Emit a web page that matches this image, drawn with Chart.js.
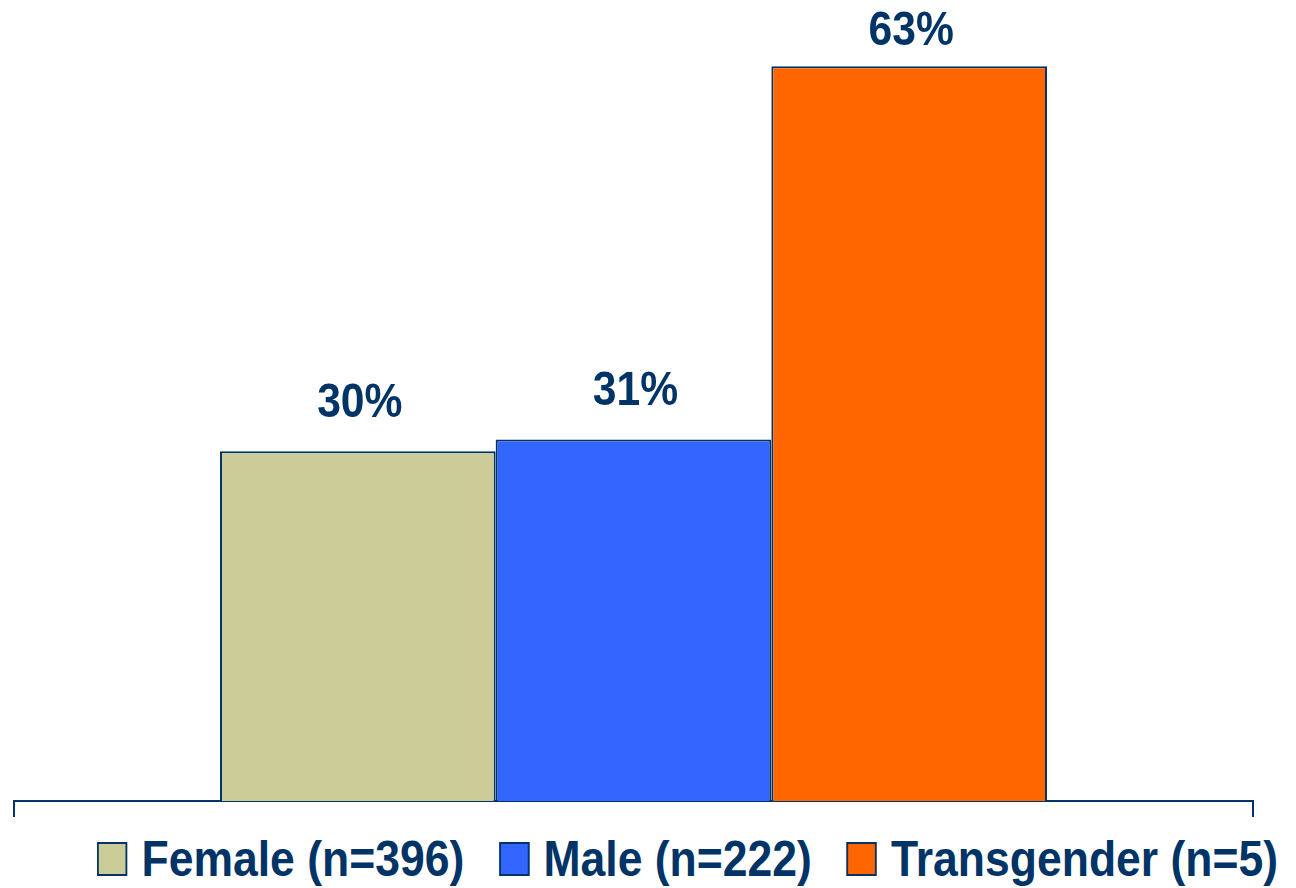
<!DOCTYPE html>
<html>
<head>
<meta charset="utf-8">
<script src="https://cdn.jsdelivr.net/npm/chart.js@4/dist/chart.umd.min.js"></script>
<style>
  body { margin: 0; background: #fff; }
  #wrap { position: relative; width: 1296px; height: 888px; overflow: hidden; }
  #chart { position: absolute; left: 0; top: 0; }
  #legend { position: absolute; left: 97px; top: 830px; display: flex; align-items: center;
            font-family: 'Liberation Sans', Arial, sans-serif;
            font-weight: bold; font-size: 50px; color: #003366; white-space: nowrap;
            transform: scaleX(0.89); transform-origin: left center; }
  .item { display: flex; align-items: center; margin-right: 39px; }
  .box { width: 30px; height: 30px; border: 2px solid #003366; margin-right: 16px; }
</style>
</head>
<body>
<div id="wrap">
  <canvas id="chart" width="1296" height="820"></canvas>
  <div id="legend"></div>
</div>
<script>
// data
const groups = ['Female (n=396)', 'Male (n=222)', 'Transgender (n=5)'];
const percents = [30, 31, 63];
const colors = ['#CCCC99', '#3366FF', '#FF6600'];

const NAVY = '#003366';
const LABEL_FONT = "bold 49px 'Liberation Sans', Arial, sans-serif";

//value labels over the bars (squeezed a bit like a narrow font)
const barLabels = {
    id: 'barLabels',
    afterDatasetsDraw(chart) {
        const ctx = chart.ctx;
        chart.data.datasets.forEach(function (ds, i) {
            const bar = chart.getDatasetMeta(i).data[0];
            let y = bar.y - 34;
            if (y < 45) y = 45;
            ctx.save();
            ctx.font = LABEL_FONT;
            ctx.fillStyle = NAVY;
            ctx.textAlign = 'center';
            ctx.textBaseline = 'alphabetic';
            ctx.translate(bar.x + 2, y);
            ctx.scale(0.87, 1);
            ctx.fillText(ds.data[0] + '%', 0, 0);
            ctx.restore();
        });
    }
};

let datasets = [];
for (let i = 0; i < groups.length; i++) {
    datasets.push({
        label: groups[i],
        data: [percents[i]],
        backgroundColor: colors[i],
        borderColor: NAVY,
        borderWidth: 2,
        borderSkipped: 'bottom'
    });
}

new Chart(document.getElementById('chart'), {
    type: 'bar',
    data: { labels: [''], datasets: datasets },
    options: {
        responsive: false,
        animation: false,
        devicePixelRatio: 1,
        categoryPercentage: 0.6675,
        barPercentage: 1,
        layout: { padding: { top: 8, left: 14, right: 43, bottom: 3 } },
        plugins: {
            legend: { display: false },
            tooltip: { enabled: false }
        },
        scales: {
            x: {
                grid: { display: true, offset: true, drawOnChartArea: false, drawTicks: true,
                        tickLength: 16, color: NAVY, lineWidth: 2 },
                border: { display: true, color: NAVY, width: 2 },
                ticks: { display: false }
            },
            y: { display: false, min: 0, max: 68 }
        }
    },
    plugins: [barLabels]
});

//legend as html text
const legend = document.getElementById('legend');
for (let i = 0; i < groups.length; i++) {
    const item = document.createElement('div');
    item.className = 'item';
    const box = document.createElement('div');
    box.className = 'box';
    box.style.background = colors[i];
    item.append(box);
    item.append(document.createTextNode(groups[i]));
    legend.append(item);
}
</script>
</body>
</html>
